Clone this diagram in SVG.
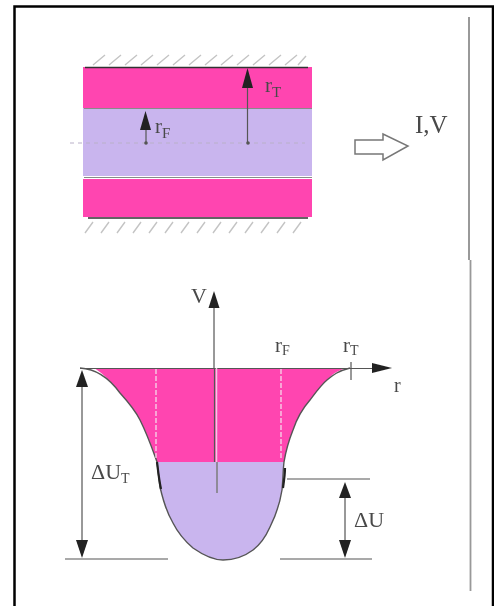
<svg xmlns="http://www.w3.org/2000/svg" width="494" height="606" viewBox="0 0 494 606">
<defs>
<filter id="soft" x="-5%" y="-5%" width="110%" height="110%"><feGaussianBlur stdDeviation="0.45"/></filter>
</defs>
<style>
.t{font-family:"Liberation Serif",serif;fill:#4a4a4a}
.l{fill:none;stroke:#555;stroke-width:1.2}
.h{fill:none;stroke:#c4c4c4;stroke-width:1.4}
.d{fill:none;stroke:#f6e4ef;stroke-width:1.2;stroke-dasharray:5 2}
.a{fill:#222}
</style>
<rect width="494" height="606" fill="#fff"/>
<g id="frame"><path d="M14.500 606V6.500H493V606" fill="none" stroke="#000" stroke-width="2.500"/></g>
<g id="separator"><path d="M469 17V260" stroke="#999" stroke-width="2" fill="none"/><path d="M470.500 260V591" stroke="#999" stroke-width="1.800" fill="none"/></g>
<g filter="url(#soft)">
<g id="channel">
<rect x="83" y="67" width="229" height="41" fill="#ff45b0"/>
<rect x="83" y="108" width="229" height="68" fill="#c9b5ee"/>
<rect x="83" y="179" width="229" height="38" fill="#ff45b0"/>
<path d="M85 67.500H308M88 218H308" stroke="#333" stroke-width="1.500" fill="none"/>
<path d="M84 108.500H312M84 177.500H312" stroke="#8a8a8a" stroke-width="1" fill="none"/>
<path d="M70 143H305" stroke="#b9b0c8" stroke-width="1" stroke-dasharray="4 4" fill="none"/>
<path class="h" d="M93 65L105 55M109 65L121 55M125 65L137 55M141 65L153 55M157 65L169 55M173 65L185 55M189 65L201 55M205 65L217 55M221 65L233 55M237 65L249 55M253 65L265 55M269 65L281 55M285 65L297 55M298 65L306 56"/>
<path class="h" d="M85 233L93 222M101 233L109 222M117 233L125 222M133 233L141 222M149 233L157 222M165 233L173 222M181 233L189 222M197 233L205 222M213 233L221 222M229 233L237 222M245 233L253 222M261 233L269 222M277 233L285 222M293 233L301 222"/>
</g>
<g id="r-labels">
<path d="M247.500 143V86" class="l"/><path class="a" d="M247.500 68L242 88H253Z"/><circle cx="248" cy="143" r="1.800" fill="#555"/>
<path d="M146 143V128" class="l"/><path class="a" d="M145.500 111L140 130H151Z"/><circle cx="146" cy="143" r="1.800" fill="#555"/>
<text class="t" x="265" y="92" font-size="21">r<tspan font-size="15" dy="5">T</tspan></text>
<text class="t" x="155" y="133" font-size="21">r<tspan font-size="15" dy="5">F</tspan></text>
</g>
<g id="flow-arrow">
<path d="M355 140H383V134L408 146L383 160V154H355Z" fill="#fff" stroke="#777" stroke-width="1.500"/>
<text class="t" x="415" y="133" font-size="25">I,V</text>
</g>
<g id="well">
<path d="M95 368.500C103 374 112 382 120 393C130 404 136 412 140 420C148 436 152 448 157 462H284C286 450 289 440 293 430C297 418 303 408 310 400C316 392 321 385 327 380C332 375 336 371 345 368.500Z" fill="#ff45b0"/>
<path d="M157 462C158 470 159 480 160 487C163 500 167 513 173 523C179 535 186 542 193 548C203 555 213 560 223 560C234 560 245 556 253 550C261 544 266 536 270 527C276 515 280 503 282 490C283 480 283 470 284 462Z" fill="#c9b5ee"/>
<path d="M80 368C100 369 112 382 120 393C130 404 136 412 140 420C148 436 152 448 157 462C158 470 159 480 160 487C163 500 167 513 173 523C179 535 186 542 193 548C203 555 213 560 223 560C234 560 245 556 253 550C261 544 266 536 270 527C276 515 280 503 282 490C283 480 283 470 284 462C286 450 289 440 293 430C297 418 303 408 310 400C316 392 321 385 327 380C333 375 338 371 350 368" fill="none" stroke="#555" stroke-width="1.400"/>
<path d="M157 462C158 470 159 480 161 489M285 468C285 474 284 481 283 488" fill="none" stroke="#222" stroke-width="2.200"/>
</g>
<g id="axes">
<path d="M80 368.500H376" class="l"/><path class="a" d="M392 368L372 363V373Z"/>
<path d="M214 368V305" class="l"/><path class="a" d="M214 291L208.500 308H219.500Z"/>
<path d="M214.500 368V462" stroke="#555" stroke-width="1.200" fill="none"/>
<path d="M216.500 368V462" stroke="#f2c8e4" stroke-width="1.500" fill="none"/>
<path d="M217 462V493" stroke="#8f8a98" stroke-width="2" fill="none"/>
<path d="M351 362V380" class="l"/>
<path class="d" d="M156 369V460M281 369V460"/>
</g>
<g id="dimensions">
<path d="M82 385V545" class="l"/><path class="a" d="M82 370L76 387H88Z"/><path class="a" d="M82 558L76 540H88Z"/>
<path d="M345 495V545" class="l"/><path class="a" d="M345 482L339 498H351Z"/><path class="a" d="M345 558L339 540H351Z"/>
<path d="M65 559H168M280 559H372M287 479H370" stroke="#555" stroke-width="1.200" fill="none"/>
</g>
<g id="well-labels">
<text class="t" x="191" y="303" font-size="22">V</text>
<text class="t" x="275" y="352" font-size="21">r<tspan font-size="14" dy="3">F</tspan></text>
<text class="t" x="343" y="352" font-size="21">r<tspan font-size="14" dy="3">T</tspan></text>
<text class="t" x="394" y="392" font-size="20">r</text>
<text class="t" x="91" y="479" font-size="22">ΔU<tspan font-size="14" dy="4">T</tspan></text>
<text class="t" x="354" y="527" font-size="22">ΔU</text>
</g>
</g>
</svg>
